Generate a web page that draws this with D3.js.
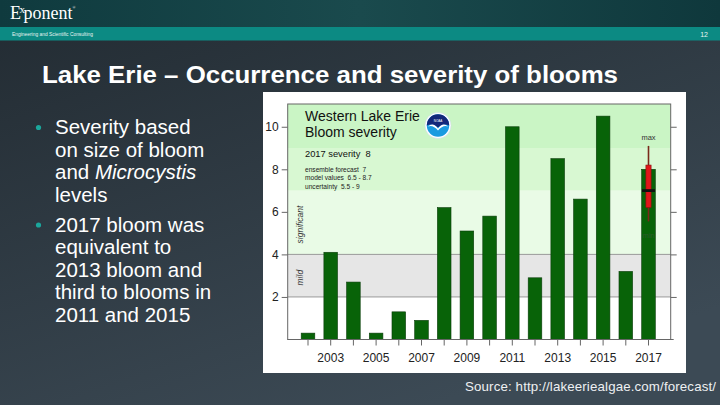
<!DOCTYPE html>
<html>
<head>
<meta charset="utf-8">
<script src="https://cdn.jsdelivr.net/npm/d3@7"></script>
<style>
  html, body { margin: 0; padding: 0; background: #2a333a; }
  svg { display: block; font-family: Arial, "Liberation Sans", sans-serif; }
  text { white-space: pre; }
</style>
</head>
<body>
<svg id="slide" width="720" height="405"></svg>
<script>
// Bloom severity by year
const years = [2002, 2003, 2004, 2005, 2006, 2007, 2008, 2009, 2010, 2011, 2012, 2013, 2014, 2015, 2016, 2017];
const severity = [0.3, 4.1, 2.7, 0.3, 1.3, 0.9, 6.2, 5.1, 5.8, 10.0, 2.9, 8.5, 6.6, 10.5, 3.2, 8.0];
const yTicks = [2, 4, 6, 8, 10];
const labelYears = [2003, 2005, 2007, 2009, 2011, 2013, 2015, 2017];

// background bands of the severity scale
const bandLow = [0, 2, 4, 7, 9];
const bandHigh = [2, 4, 7, 9, 11.07];
const bandFill = ["#ffffff", "#e6e6e6", "#e9fbe6", "#d8f8d2", "#caf5c5"];
const bandNames = ["", "mild", "significant", "", ""];

// 2017 forecast marker
const forecastYear = 2017;
const ensemble = 7;
const modelRange = [6.2, 8.2];
const uncertaintyRange = [5.55, 9.1];

const headerLines = ["Western Lake Erie", "Bloom severity"];
const infoLines = ["ensemble forecast  7", "model values  6.5 - 8.7", "uncertainty  5.5 - 9"];

// bullet lines, each line is a list of [text, italic] pieces
const bullets = [
  [[["Severity based", false]], [["on size of bloom", false]],
   [["and ", false], ["Microcystis", true]], [["levels", false]]],
  [[["2017 bloom was", false]], [["equivalent to", false]], [["2013 bloom and", false]],
   [["third to blooms in", false]], [["2011 and 2015", false]]]
];

const svg = d3.select("#slide");
const defs = svg.append("defs");

// ---- slide background
const bg = defs.append("linearGradient").attr("id", "bg")
  .attr("x1", "0").attr("y1", "0").attr("x2", "0.6").attr("y2", "1");
bg.append("stop").attr("offset", "0").attr("stop-color", "#222b32");
bg.append("stop").attr("offset", "1").attr("stop-color", "#3c4a55");
svg.append("rect").attr("width", 720).attr("height", 405).attr("fill", "url(#bg)");

const hd = defs.append("linearGradient").attr("id", "hd");
hd.append("stop").attr("offset", "0").attr("stop-color", "#0f3a3e");
hd.append("stop").attr("offset", "0.5").attr("stop-color", "#1a4a4d");
hd.append("stop").attr("offset", "1").attr("stop-color", "#0f383c");
svg.append("rect").attr("width", 720).attr("height", 27).attr("fill", "url(#hd)");
svg.append("rect").attr("y", 27).attr("width", 720).attr("height", 13.5).attr("fill", "#0c8a83");

// logo
const logo = svg.append("text").attr("x", 10).attr("y", 19)
  .attr("fill", "#fff").attr("font-family", "'Liberation Serif', 'DejaVu Serif', serif").attr("font-size", 18);
logo.append("tspan").text("E");
logo.append("tspan").attr("font-size", 11).attr("dy", -6).attr("dx", -1.5).text("x");
logo.append("tspan").attr("dy", 6).attr("dx", -1.5).text("ponent");
logo.append("tspan").attr("font-size", 4).attr("dy", -10).text("®");

svg.append("text").attr("x", 12).attr("y", 36).attr("fill", "#e8f4f2")
  .attr("font-size", 5.5).attr("textLength", 81).attr("lengthAdjust", "spacingAndGlyphs")
  .text("Engineering and Scientific Consulting");
svg.append("text").attr("x", 708).attr("y", 37).attr("fill", "#e8f4f2")
  .attr("font-size", 7).attr("text-anchor", "end").text("12");

// title
svg.append("text").attr("x", 42).attr("y", 83).attr("fill", "#fff")
  .attr("font-size", 23.5).attr("font-weight", "bold")
  .attr("textLength", 576).attr("lengthAdjust", "spacingAndGlyphs")
  .text("Lake Erie \u2013 Occurrence and severity of blooms");

// bullets
let by = 134;
bullets.forEach((lines) => {
  svg.append("circle").attr("cx", 38.5).attr("cy", by - 6.5).attr("r", 2.6).attr("fill", "#1ba79c");
  lines.forEach((pieces) => {
    const t = svg.append("text").attr("x", 55).attr("y", by).attr("fill", "#fff")
      .attr("font-size", 20.5);
    pieces.forEach(([s, it]) => {
      t.append("tspan").attr("font-style", it ? "italic" : "normal").text(s);
    });
    by += 22.5;
  });
  by += 7.5;
});

// source
svg.append("text").attr("x", 465).attr("y", 391)
  .attr("fill", "#eef0f2").attr("font-size", 13.3)
  .attr("textLength", 251).attr("lengthAdjust", "spacing")
  .text("Source: http://lakeeriealgae.com/forecast/");

// ---- chart panel
svg.append("rect").attr("x", 263).attr("y", 92).attr("width", 423).attr("height", 281).attr("fill", "#fff");

const plot = { left: 287.7, right: 670.7, top: 104, bottom: 339.5 };

const x = d3.scaleBand().domain(years)
  .range([296.65, 659.85]).paddingInner(0.4).paddingOuter(0.2);
const y = d3.scaleLinear().domain([0, 11.07]).range([plot.bottom, plot.top]);

const chart = svg.append("g");

// severity bands
chart.selectAll("rect.band").data(bandLow).enter().append("rect")
  .attr("class", "band")
  .attr("x", plot.left).attr("width", plot.right - plot.left)
  .attr("y", (d, i) => y(bandHigh[i]))
  .attr("height", (d, i) => y(d) - y(bandHigh[i]))
  .attr("fill", (d, i) => bandFill[i]);

// band boundary lines at 2 and 4
chart.selectAll("line.bline").data([2, 4]).enter().append("line")
  .attr("x1", plot.left).attr("x2", plot.right)
  .attr("y1", (d) => y(d)).attr("y2", (d) => y(d))
  .attr("stroke", "#9a9a9a").attr("stroke-width", 1);

// band names
chart.selectAll("text.bname").data(bandLow.filter((d, i) => bandNames[i])).enter().append("text")
  .attr("transform", (d) => {
    const i = bandLow.indexOf(d);
    return `translate(${plot.left + 15},${y((d + bandHigh[i]) / 2) + 2}) rotate(-90)`;
  })
  .attr("text-anchor", "middle").attr("font-size", 8.5).attr("font-style", "italic")
  .attr("fill", "#333")
  .text((d) => bandNames[bandLow.indexOf(d)]);

// bars
chart.selectAll("rect.bar").data(severity).enter().append("rect")
  .attr("class", "bar")
  .attr("x", (d, i) => x(years[i]))
  .attr("width", x.bandwidth())
  .attr("y", (d) => y(d))
  .attr("height", (d) => y(0) - y(d))
  .attr("fill", "#086308").attr("stroke", "#0b3d0b").attr("stroke-width", 0.6);

// forecast marker
const fx = x(forecastYear) + x.bandwidth() / 2;
chart.append("line").attr("x1", fx).attr("x2", fx)
  .attr("y1", y(uncertaintyRange[1])).attr("y2", y(uncertaintyRange[0]))
  .attr("stroke", "#7a2a1a").attr("stroke-width", 1.6);
chart.append("rect").attr("x", fx - 2.6).attr("width", 5.2)
  .attr("y", y(modelRange[1])).attr("height", y(modelRange[0]) - y(modelRange[1]))
  .attr("fill", "#e0161a").attr("stroke", "#8a1010").attr("stroke-width", 0.6);
chart.append("line").attr("x1", fx - 6.5).attr("x2", fx + 6.5)
  .attr("y1", y(ensemble)).attr("y2", y(ensemble))
  .attr("stroke", "#111").attr("stroke-width", 2.8);
chart.append("text").attr("x", fx).attr("y", 140).attr("text-anchor", "middle")
  .attr("font-size", 7.5).attr("fill", "#333").text("max");
chart.append("text").attr("x", fx).attr("y", 237.5).attr("text-anchor", "middle")
  .attr("font-size", 7.5).attr("fill", "#2d5a2d").text("min");

// header text inside the plot
chart.selectAll("text.head").data(headerLines).enter().append("text")
  .attr("x", 305).attr("y", (d, i) => 120.5 + i * 16.8)
  .attr("font-size", 14).attr("fill", "#111").text((d) => d);
chart.append("text").attr("x", 305).attr("y", 156.5)
  .attr("font-size", 9.3).attr("fill", "#111").text("2017 severity  8");
chart.selectAll("text.info").data(infoLines).enter().append("text")
  .attr("x", 305).attr("y", (d, i) => 171.5 + i * 8.6)
  .attr("font-size", 6.6).attr("fill", "#222").text((d) => d);

// NOAA logo
const noaa = chart.append("g").attr("transform", "translate(438,125.5)");
noaa.append("circle").attr("r", 13).attr("fill", "#fff").attr("stroke", "#c8d4e8").attr("stroke-width", 0.5);
noaa.append("circle").attr("r", 11.2).attr("fill", "#1a9be0");
noaa.append("path").attr("d", "M-11.2,0 A11.2,11.2 0 0 1 11.2,0 Q6,-3 0,2 Q-6,-3 -11.2,0 Z").attr("fill", "#13287a");
noaa.append("path").attr("d", "M-10,1 Q-5,-4 0,3 Q5,-4 10,1 Q5,-1 0,5 Q-5,-1 -10,1 Z").attr("fill", "#fff");
noaa.append("text").attr("y", -4).attr("text-anchor", "middle").attr("font-size", 3).attr("fill", "#fff").text("NOAA");

// plot frame
chart.append("rect").attr("x", plot.left).attr("y", plot.top)
  .attr("width", plot.right - plot.left).attr("height", plot.bottom - plot.top)
  .attr("fill", "none").attr("stroke", "#666").attr("stroke-width", 1);

// y axis, left and right
const yLeft = chart.append("g").attr("transform", `translate(${plot.left},0)`)
  .call(d3.axisLeft(y).tickValues(yTicks).tickSize(6).tickPadding(3));
const yRight = chart.append("g").attr("transform", `translate(${plot.right},0)`)
  .call(d3.axisRight(y).tickValues(yTicks).tickSize(6).tickFormat(""));
[yLeft, yRight].forEach((g) => {
  g.select(".domain").remove();
  g.selectAll("line").attr("stroke", "#666");
  g.selectAll("text").attr("font-size", 12).attr("fill", "#222")
    .attr("font-family", "Arial, 'Liberation Sans', sans-serif");
});

// x axis: ticks every year, labels on odd years
const xAxis = chart.append("g").attr("transform", `translate(0,${plot.bottom})`)
  .call(d3.axisBottom(x).tickSize(6).tickPadding(8)
    .tickFormat((d) => (labelYears.includes(d) ? d : "")));
xAxis.select(".domain").remove();
xAxis.selectAll("line").attr("stroke", "#666");
xAxis.selectAll("text").attr("font-size", 12).attr("fill", "#222")
  .attr("font-family", "Arial, 'Liberation Sans', sans-serif");
chart.append("line").attr("x1", plot.left).attr("x2", plot.right + 3)
  .attr("y1", plot.bottom).attr("y2", plot.bottom).attr("stroke", "#666");
</script>
</body>
</html>
